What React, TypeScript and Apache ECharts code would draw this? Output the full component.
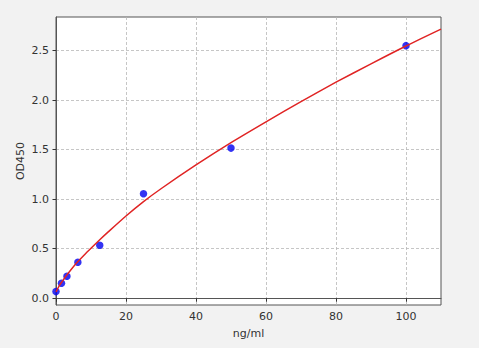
import React, { useEffect, useRef } from "react";
import * as echarts from "echarts";

// Standard points (concentration ng/ml, OD450)
const stdConc = [0, 1.5625, 3.125, 6.25, 12.5, 25, 50, 100];
const stdOD = [0.067, 0.152, 0.222, 0.364, 0.535, 1.054, 1.515, 2.549];

// Fitted curve
const curveX = [0, 1, 2, 3, 4, 6, 8, 10, 12.5, 15, 20, 25, 30, 40, 50, 60, 70, 80, 90, 100, 110];
const curveY = [0.065, 0.13, 0.18, 0.23, 0.275, 0.36, 0.435, 0.505, 0.59, 0.672, 0.83, 0.975, 1.105, 1.345, 1.57, 1.78, 1.985, 2.18, 2.365, 2.545, 2.715];

const xTicks = [0, 20, 40, 60, 80, 100];
const yTicks = [0, 0.5, 1.0, 1.5, 2.0, 2.5];

export default function App() {
  const ref = useRef<HTMLDivElement>(null);
  useEffect(() => {
    if (!ref.current) return;
    const chart = echarts.init(ref.current, null, { renderer: "svg" });
    const font = "DejaVu Sans";
    const grid = { color: "#b8b8b8", width: 0.8, type: [3, 2] as any };
    chart.setOption({
      animation: false,
      backgroundColor: "transparent",
      textStyle: { fontFamily: font },
      grid: {
        left: 56,
        right: 38,
        top: 17,
        bottom: 43,
        show: true,
        backgroundColor: "#ffffff",
        borderColor: "#555555",
        borderWidth: 1,
      },
      xAxis: {
        type: "value",
        min: 0,
        max: 110,
        name: "ng/ml",
        nameLocation: "middle",
        nameGap: 23,
        nameTextStyle: { fontFamily: font, fontSize: 11, color: "#333" },
        axisLine: { show: true, lineStyle: { color: "#555555", width: 1 } },
        axisTick: { show: true, length: 3.5, customValues: xTicks, lineStyle: { color: "#333" } },
        axisLabel: { customValues: xTicks, margin: 6, fontFamily: font, fontSize: 11, color: "#333" },
        splitLine: { show: true, lineStyle: grid },
      },
      yAxis: {
        type: "value",
        min: -0.068,
        max: 2.838,
        name: "OD450",
        nameLocation: "middle",
        nameGap: 30,
        nameMoveOverlap: false,
        nameRotate: 90,
        nameTextStyle: { fontFamily: font, fontSize: 11, color: "#333" },
        axisLine: { show: true, lineStyle: { color: "#555555", width: 1 } },
        axisTick: { show: true, length: 3.5, customValues: yTicks, lineStyle: { color: "#333" } },
        axisLabel: {
          customValues: yTicks,
          margin: 7,
          fontFamily: font,
          fontSize: 11,
          color: "#333",
          formatter: (v: number) => v.toFixed(1),
        },
        splitLine: { show: true, lineStyle: grid },
      },
      series: [
        {
          type: "scatter",
          data: stdConc.map((c, i) => [c, stdOD[i]]),
          symbol: "circle",
          symbolSize: 7.5,
          itemStyle: { color: "#0000f0" },
          z: 2,
        },
        {
          type: "line",
          data: curveX.map((c, i) => [c, curveY[i]]),
          smooth: 0.25,
          showSymbol: false,
          symbol: "none",
          lineStyle: { color: "#e02424", width: 1.5 },
          z: 3,
        },
      ],
    });
    return () => chart.dispose();
  }, []);
  return (
    <div style={{ position: "fixed", left: 0, top: 0, width: 489, height: 362, background: "#ffffff" }}>
      <div ref={ref} style={{ width: 479, height: 348, background: "#f2f2f2" }} />
    </div>
  );
}
